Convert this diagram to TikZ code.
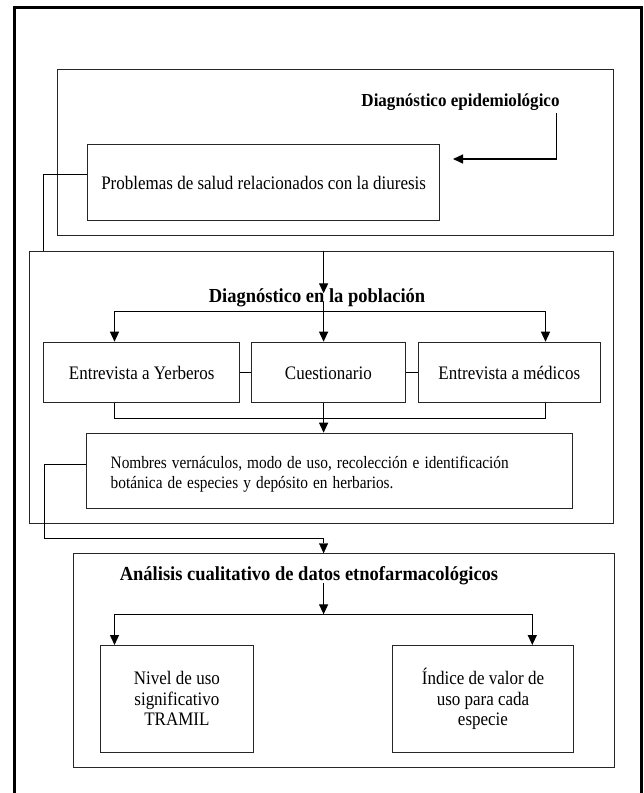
\documentclass[tikz,border=0pt]{standalone}
\usepackage{fontspec}
\usepackage{graphicx}
\setmainfont{Liberation Serif}
\usetikzlibrary{arrows.meta,calc}
\newcommand{\nar}[2][0.89]{\scalebox{#1}[1]{#2}}

\begin{document}
\begin{tikzpicture}[x=1pt,y=-1pt]
\tikzset{>={Triangle[length=10pt,width=9pt]},
  frame/.style={draw=black!85,line width=1pt,inner sep=0pt,anchor=north west},
  box/.style={frame,align=center,font=\fontsize{19.1}{20.5}\selectfont},
  onebox/.style={box,text height=13pt,text depth=0pt},
  head/.style={font=\bfseries\fontsize{19.9}{22}\selectfont,anchor=base},
  conn/.style={line width=1.3pt}}
\useasboundingbox (0,0) rectangle (644,793);
\draw[line width=3pt] (14.7,793) |- (641.7,7.6) -- (641.7,793);
\coordinate (mid) at (323.6,0);

% Diagnostico epidemiologico
\node[frame,minimum width=556.3pt,minimum height=166.3pt] (epf) at (56.7,68.7) {};
\node[head,font=\bfseries\fontsize{18.3}{20}\selectfont] (epi) at (460.5,106) {\nar[0.93]{Diagnóstico epidemiológico}};
\node[onebox,minimum width=351.7pt,minimum height=75.7pt] (prob) at (87.3,144.3) {\nar{Problemas de salud relacionados con la diuresis}};
\coordinate (e1) at (556.7,113);
\coordinate (e2) at (453,159);
\draw[conn,->] (e1) |- (e2);

% Diagnostico en la poblacion
\node[frame,minimum width=584pt,minimum height=272.6pt] (pof) at (29,250.7) {};
\coordinate (c1) at (42.7,0);
\draw ([yshift=8pt]prob.west) -| (c1 |- pof.north);
\node[head] (pob) at (317,302) {\nar[0.93]{Diagnóstico en la población}};
\draw[conn,->] (mid |- pof.north) -- ([yshift=8.7pt]mid |- pob.base);
\node[onebox,minimum width=196.4pt,minimum height=60.6pt] (yer) at (43,341.7) {\nar{Entrevista a Yerberos}};
\node[onebox,minimum width=153.2pt,minimum height=60.6pt] (cue) at (251.3,341.7) {\nar{Cuestionario}};
\node[onebox,minimum width=181.6pt,minimum height=60.6pt] (med) at (418,341.7) {\nar{Entrevista a médicos}};
\coordinate (br1) at (323.6,311.7);
\draw[conn,->] (mid |- pob.base) -- (mid |- cue.north);
\draw[conn,->] (br1) -| ([xshift=-27.2pt]yer.north);
\draw[conn,->] (br1) -| ([xshift=36.2pt]med.north);
\draw (yer) -- (cue);
\draw (cue) -- (med);
\coordinate (ly) at ([xshift=-27.2pt]yer.south);
\coordinate (lm) at ([xshift=36.2pt]med.south);
\draw (ly) -- ++(0,15) -| (lm);
\node[frame,minimum width=485.8pt,minimum height=75.6pt,text width=437.8pt,align=left,text height=19.5pt,
  font=\fontsize{17.4}{20}\selectfont] (nom) at (86.2,432.7)
  {\nar[0.88]{Nombres vernáculos, modo de uso, recolección e identificación}\\
   \nar[0.88]{botánica de especies y depósito en herbarios.}};
\draw[conn,->] (mid |- cue.south) -- (mid |- nom.north);

% Analisis cualitativo
\node[frame,minimum width=541.3pt,minimum height=213.4pt] (anf) at (72.7,553.3) {};
\coordinate (c3) at (44.4,538.5);
\draw[->] ([yshift=7.2pt]nom.west) -| (c3) -| (mid |- anf.north);
\node[head] (ana) at (309,580) {\nar[0.93]{Análisis cualitativo de datos etnofarmacológicos}};
\node[box,minimum width=153.2pt,minimum height=106.7pt] (niv) at (99.8,645)
  {\nar{Nivel de uso}\\\nar{significativo}\\\nar{TRAMIL}};
\node[box,minimum width=181pt,minimum height=106.7pt] (ind) at (392,645)
  {\nar{Índice de valor de}\\\nar{uso para cada}\\\nar{especie}};
\coordinate (br2) at (323.6,614.3);
\draw[conn,->] ([yshift=-3pt]mid |- ana.base) -- (br2);
\draw[conn,->] (br2) -| ([xshift=-62.4pt]niv.north);
\draw[conn,->] (br2) -| ([xshift=49.3pt]ind.north);

\end{tikzpicture}
\end{document}
